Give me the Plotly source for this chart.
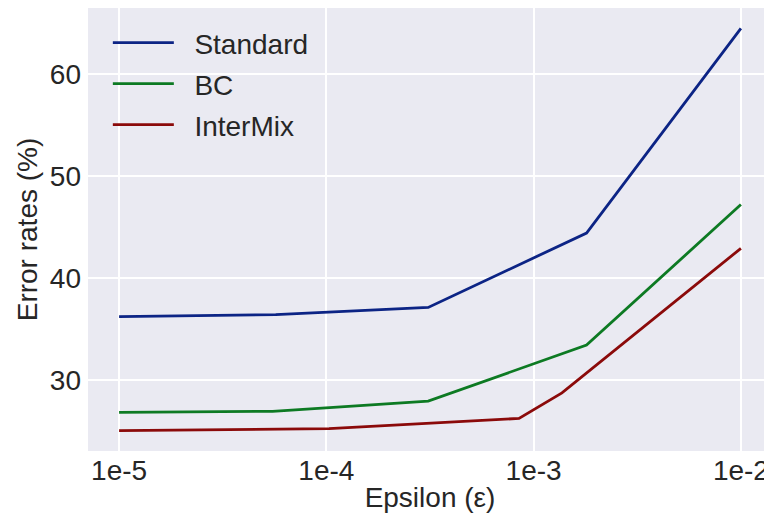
import plotly.graph_objects as go

std_x = [1e-5, 5.7e-5, 3.1e-4, 1.8e-3, 1e-2]
std_y = [36.2, 36.4, 37.1, 44.4, 64.5]
bc_x = [1e-5, 5.5e-5, 3.1e-4, 1.8e-3, 1e-2]
bc_y = [26.8, 26.9, 27.9, 33.4, 47.2]
im_x = [1e-5, 1.03e-4, 8.5e-4, 1.37e-3, 1e-2]
im_y = [25.0, 25.2, 26.2, 28.7, 42.9]
series_names = ["Standard", "BC", "InterMix"]

x_tickvals = [1e-5, 1e-4, 1e-3, 1e-2]
x_ticktext = ["1e-5", "1e-4", "1e-3", "1e-2"]
y_tickvals = [30, 40, 50, 60]

font = "Liberation Sans, Arial, sans-serif"
fig = go.Figure()
series = [(series_names[0], std_x, std_y, "#0c2485", "legend"),
          (series_names[1], bc_x, bc_y, "#0d7a23", "legend2"),
          (series_names[2], im_x, im_y, "#8b0a0a", "legend3")]
for name, xs, ys, col, lg in series:
    fig.add_trace(go.Scatter(x=xs, y=ys, mode="lines", name="\u00a0\u00a0" + name, legend=lg,
                             line=dict(color=col, width=2.8)))

leg_common = dict(xanchor="left", yanchor="middle", bgcolor="rgba(0,0,0,0)",
                  itemwidth=61,
                  font=dict(size=28, color="#262626", family=font), xref="paper", yref="paper")

# page has an 8px body margin; plot area on screen: x 88..772, y 8..451
def ypaper(py):
    return (451 - py) / 443.0

fig.update_layout(
    width=764, height=511,
    margin=dict(l=80, r=0, t=0, b=68),
    paper_bgcolor="white", plot_bgcolor="#EAEAF2",
    font=dict(family=font, size=28, color="#262626"),
    legend=dict(x=0.029, y=ypaper(43), **leg_common),
    legend2=dict(x=0.029, y=ypaper(84), **leg_common),
    legend3=dict(x=0.029, y=ypaper(125), **leg_common),
    showlegend=True,
)
fig.update_xaxes(type="log", range=[-5.15, -1.85], tickvals=x_tickvals, ticktext=x_ticktext,
                 showgrid=True, gridcolor="white", gridwidth=1.5, zeroline=False,
                 showline=False, ticks="", ticklabelstandoff=0, automargin=False,
                 tickfont=dict(size=28),
                 title=dict(text="Epsilon (ε)", font=dict(size=28), standoff=2))
fig.update_yaxes(range=[23.0, 66.5], tickvals=y_tickvals,
                 showgrid=True, gridcolor="white", gridwidth=1.5, zeroline=False,
                 showline=False, ticks="", ticklabelstandoff=6, automargin=False,
                 tickfont=dict(size=28),
                 title=dict(text="Error rates (%)", font=dict(size=28), standoff=4))
fig.write_html("out.html")
